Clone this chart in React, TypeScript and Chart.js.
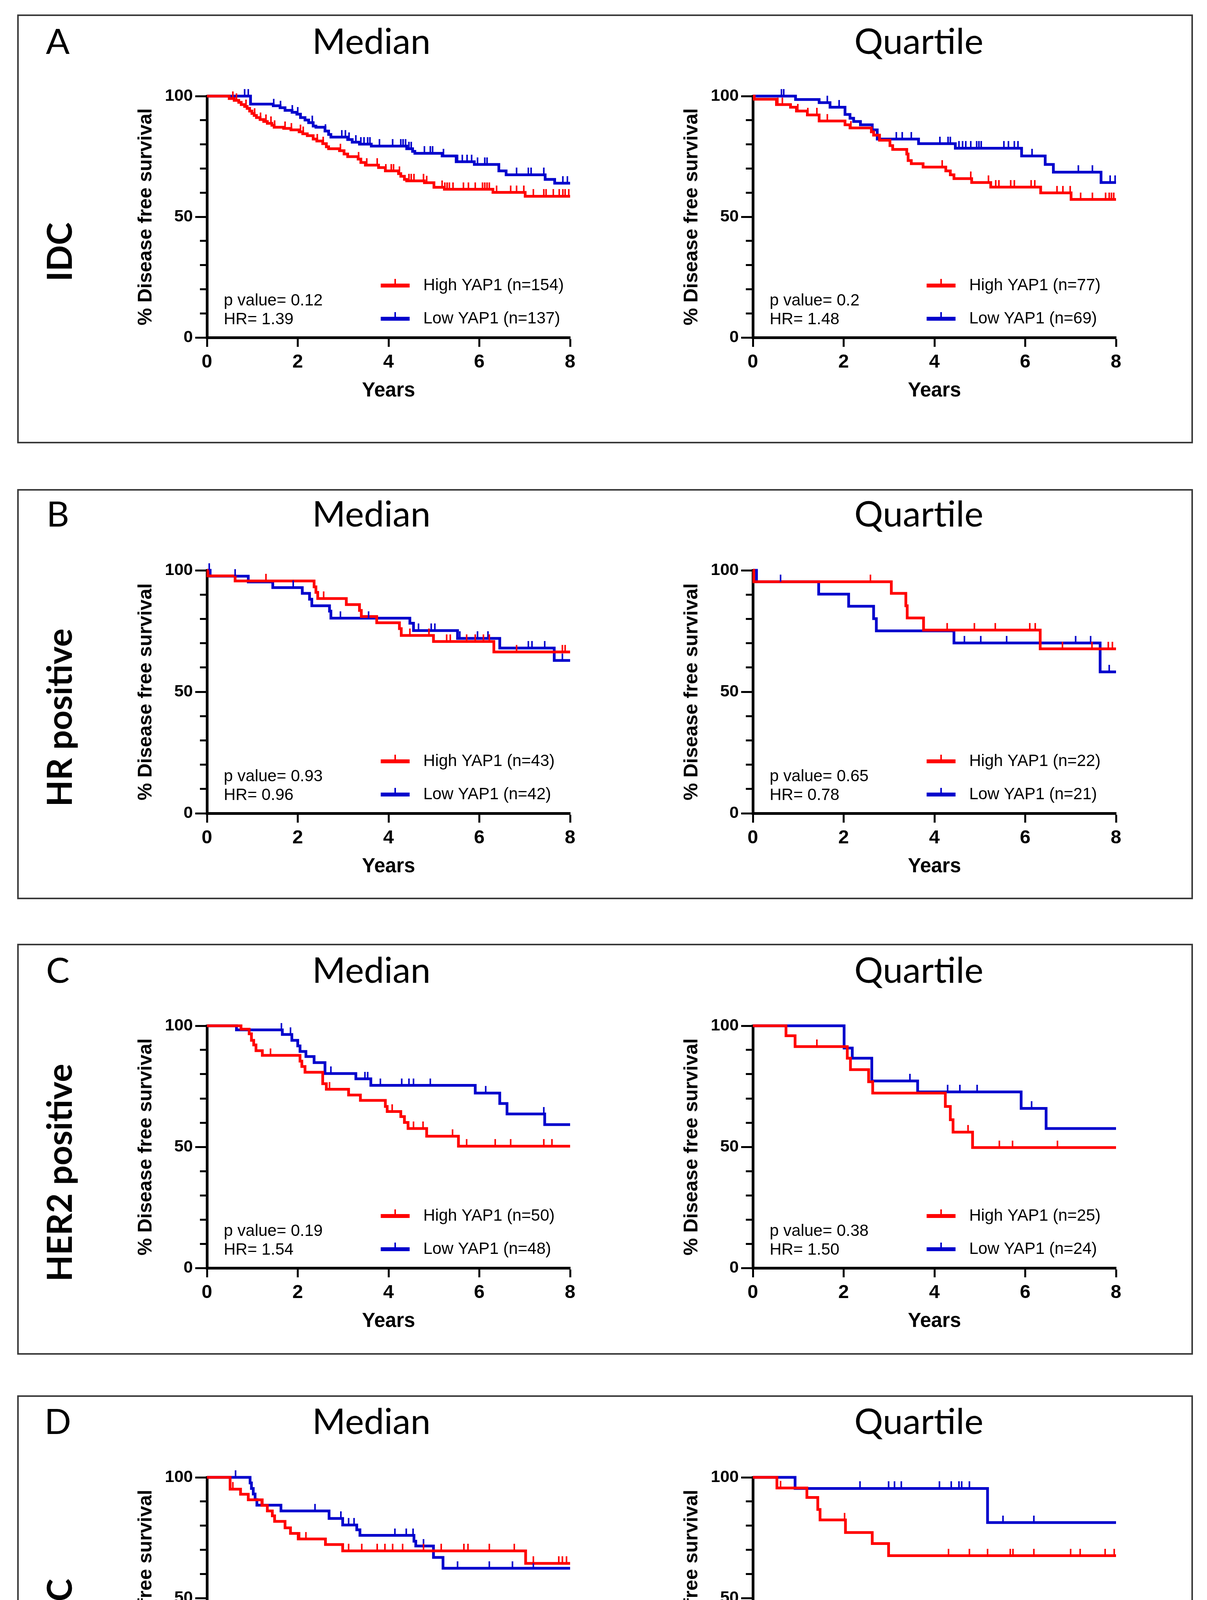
import React, { useEffect, useRef } from 'react';
import { Chart, registerables } from 'chart.js';

Chart.register(...registerables);

type Pt = [number, number];

// ---------- DATA: Kaplan–Meier steps [years, % survival] and censor times ----------
// IDC – Median
const IDC_MED_HIGH: Pt[] = [[0, 100], [0.49, 99.0], [0.6, 98.2], [0.7, 97.4], [0.755, 96.5], [0.83, 95.7], [0.885, 94.9], [0.94, 93.8], [0.99, 92.8], [1.04, 92.0], [1.09, 91.1], [1.17, 90.3], [1.25, 89.5], [1.33, 88.7], [1.43, 87.9], [1.48, 87.1], [1.69, 86.6], [1.85, 86.0], [2.03, 85.2], [2.11, 84.4], [2.21, 83.6], [2.34, 82.2], [2.42, 81.4], [2.55, 80.3], [2.63, 79.0], [2.68, 78.2], [2.92, 77.4], [3.02, 76.0], [3.1, 74.9], [3.33, 73.9], [3.39, 72.5], [3.49, 71.4], [3.78, 70.4], [3.93, 69.0], [4.22, 67.9], [4.27, 66.8], [4.35, 65.5], [4.4, 64.9], [4.79, 64.1], [5.0, 62.2], [5.23, 61.4], [6.3, 60.1], [7.01, 58.5], [8, 58.5]];
const IDC_MED_HIGH_CENS = [0.57, 0.65, 0.86, 1.05, 1.18, 1.3, 1.41, 1.49, 1.72, 1.86, 2.06, 2.12, 2.43, 2.56, 2.94, 3.34, 3.52, 3.75, 3.94, 4.06, 4.11, 4.24, 4.45, 4.5, 4.56, 4.77, 4.84, 5.18, 5.24, 5.29, 5.34, 5.42, 5.65, 5.76, 5.91, 6.07, 6.12, 6.17, 6.22, 6.38, 6.69, 6.82, 6.98, 7.19, 7.42, 7.47, 7.63, 7.76, 7.84, 7.89, 7.97];
const IDC_MED_LOW: Pt[] = [[0, 100], [0.96, 96.7], [1.46, 96.0], [1.61, 95.2], [1.72, 94.1], [1.875, 93.3], [1.98, 92.5], [2.06, 91.1], [2.16, 90.1], [2.24, 89.0], [2.34, 87.6], [2.4, 87.1], [2.6, 85.5], [2.68, 84.1], [2.73, 83.0], [3.1, 82.0], [3.2, 80.9], [3.36, 80.1], [3.62, 79.3], [4.4, 78.2], [4.53, 77.1], [4.58, 76.3], [5.18, 75.2], [5.49, 72.8], [5.89, 71.7], [6.43, 69.0], [6.59, 67.4], [7.45, 65.5], [7.66, 63.9], [8, 63.9]];
const IDC_MED_LOW_CENS = [0.83, 0.91, 1.47, 1.62, 1.88, 2.0, 2.32, 2.61, 2.97, 3.05, 3.13, 3.28, 3.39, 3.46, 3.54, 3.59, 3.8, 4.09, 4.27, 4.32, 4.375, 4.45, 4.5, 4.79, 4.92, 4.97, 5.21, 5.52, 5.625, 5.73, 5.83, 5.96, 6.12, 6.17, 6.82, 7.08, 7.14, 7.42, 7.84, 7.94];

// IDC – Quartile
const IDC_Q_HIGH: Pt[] = [[0, 100], [0.03, 98.7], [0.52, 96.5], [0.83, 95.4], [0.96, 93.8], [1.2, 92.2], [1.46, 89.7], [2.03, 88.1], [2.14, 86.8], [2.61, 85.2], [2.66, 83.8], [2.79, 81.7], [3.02, 79.5], [3.08, 77.9], [3.39, 76.0], [3.42, 73.3], [3.49, 72.0], [3.75, 70.6], [4.25, 69.0], [4.35, 67.4], [4.43, 65.8], [4.82, 64.2], [5.24, 62.3], [6.34, 59.9], [7.01, 57.2], [8, 57.2]];
const IDC_Q_HIGH_CENS = [0.55, 0.65, 0.99, 1.21, 1.41, 1.64, 2.16, 4.17, 4.8, 5.19, 5.35, 5.42, 5.68, 5.76, 6.13, 6.21, 6.7, 6.83, 6.99, 7.22, 7.48, 7.77, 7.85, 7.9, 7.95];
const IDC_Q_LOW: Pt[] = [[0, 100], [0.94, 98.6], [1.46, 97.3], [1.7, 95.4], [2.03, 92.4], [2.14, 90.8], [2.22, 89.5], [2.37, 88.1], [2.63, 86.0], [2.74, 82.2], [3.65, 80.3], [4.46, 78.4], [5.92, 75.2], [6.44, 71.7], [6.62, 68.5], [7.67, 64.2], [8, 64.2]];
const IDC_Q_LOW_CENS = [0.63, 0.68, 1.64, 1.9, 3.16, 3.29, 3.49, 4.12, 4.3, 4.35, 4.54, 4.62, 4.69, 4.8, 4.93, 4.98, 5.03, 5.53, 5.63, 5.76, 5.84, 6.15, 7.17, 7.48, 7.87, 7.98];

// HR positive – Median
const HR_MED_HIGH: Pt[] = [[0, 100], [0.02, 97.7], [0.62, 95.6], [2.36, 93.2], [2.4, 90.9], [2.44, 88.4], [3.07, 85.9], [3.36, 83.5], [3.4, 81.0], [3.74, 78.4], [4.24, 76.0], [4.28, 73.2], [4.99, 70.7], [6.32, 66.4], [8, 66.4]];
const HR_MED_HIGH_CENS = [1.3, 2.57, 4.47, 4.89, 5.28, 5.36, 5.72, 5.91, 6.09, 6.22, 6.82, 7.83, 7.89];
const HR_MED_LOW: Pt[] = [[0, 100], [0.07, 97.6], [0.91, 95.2], [1.45, 92.9], [2.1, 90.5], [2.26, 88.1], [2.31, 85.4], [2.7, 83.2], [2.73, 80.3], [4.47, 78.2], [4.55, 75.2], [5.52, 72.0], [6.45, 68.0], [7.65, 62.9], [8, 62.9]];
const HR_MED_LOW_CENS = [0.05, 0.62, 1.9, 2.94, 3.56, 4.66, 4.94, 5.02, 5.57, 5.96, 6.19, 7.08, 7.16, 7.44, 7.83];

// HR positive – Quartile
const HR_Q_HIGH: Pt[] = [[0, 100], [0.02, 95.3], [3.05, 90.5], [3.37, 85.4], [3.4, 80.4], [3.76, 75.4], [6.33, 67.7], [8, 67.7]];
const HR_Q_HIGH_CENS = [2.59, 4.28, 4.88, 5.34, 6.1, 6.22, 6.82, 7.47, 7.83, 7.92];
const HR_Q_LOW: Pt[] = [[0, 100], [0.08, 95.3], [1.45, 90.2], [2.11, 85.2], [2.66, 80.1], [2.72, 75.1], [4.43, 70.1], [7.65, 58.2], [8, 58.2]];
const HR_Q_LOW_CENS = [0.61, 4.66, 5.02, 5.59, 7.11, 7.44, 7.85];

// HER2 positive – Median
const HER2_MED_HIGH: Pt[] = [[0, 100], [0.75, 98.6], [0.93, 96.7], [0.98, 94.0], [1.03, 92.1], [1.08, 89.7], [1.22, 87.8], [2.05, 85.4], [2.09, 83.2], [2.16, 80.8], [2.55, 76.1], [2.63, 73.8], [3.12, 71.4], [3.38, 69.2], [3.93, 66.7], [3.97, 64.6], [4.27, 62.5], [4.35, 60.1], [4.43, 57.6], [4.84, 54.4], [5.54, 50.3], [8, 50.3]];
const HER2_MED_HIGH_CENS = [1.4, 2.7, 4.08, 4.55, 4.76, 5.41, 5.72, 6.35, 6.69, 7.42, 7.6];
const HER2_MED_LOW: Pt[] = [[0, 100], [0.65, 98.3], [1.66, 96.4], [1.87, 94.0], [2.0, 91.7], [2.05, 89.4], [2.18, 87.3], [2.36, 84.8], [2.6, 80.3], [3.28, 78.1], [3.61, 75.4], [5.91, 72.2], [6.45, 67.9], [6.61, 63.6], [7.44, 59.2], [8, 59.2]];
const HER2_MED_LOW_CENS = [1.64, 1.84, 2.73, 3.48, 3.54, 3.82, 4.29, 4.45, 4.55, 4.92, 6.14, 7.42];

// HER2 positive – Quartile
const HER2_Q_HIGH: Pt[] = [[0, 100], [0.73, 95.9], [0.93, 91.4], [2.08, 86.6], [2.15, 81.9], [2.55, 76.9], [2.64, 72.2], [4.24, 66.7], [4.35, 61.2], [4.41, 56.1], [4.84, 49.7], [8, 49.7]];
const HER2_Q_HIGH_CENS = [1.41, 4.74, 5.43, 5.72, 6.71];
const HER2_Q_LOW: Pt[] = [[0, 100], [2.01, 90.8], [2.19, 86.6], [2.62, 77.2], [3.63, 72.7], [5.91, 65.9], [6.46, 57.6], [8, 57.6]];
const HER2_Q_LOW_CENS = [3.46, 4.29, 4.56, 4.94, 6.14];

// TNBC – Median
const TNBC_MED_HIGH: Pt[] = [[0, 100], [0.51, 95.1], [0.74, 93.0], [0.91, 90.7], [1.21, 88.4], [1.33, 86.1], [1.44, 84.1], [1.49, 81.8], [1.72, 79.1], [1.84, 76.8], [2.01, 74.5], [2.61, 72.2], [2.99, 69.6], [7.02, 64.4], [8, 64.4]];
const TNBC_MED_HIGH_CENS = [0.57, 1.23, 2.04, 2.18, 3.12, 3.41, 3.75, 3.92, 4.09, 4.31, 4.77, 5.16, 5.66, 5.75, 6.22, 6.77, 7.19, 7.75, 7.83, 7.92];
const TNBC_MED_LOW: Pt[] = [[0, 100], [0.95, 97.7], [0.98, 95.4], [1.02, 93.1], [1.06, 90.8], [1.1, 88.5], [1.63, 86.1], [2.69, 83.0], [2.99, 80.3], [3.3, 78.3], [3.37, 76.0], [4.56, 73.6], [4.6, 71.6], [4.99, 66.9], [5.2, 62.4], [8, 62.4]];
const TNBC_MED_LOW_CENS = [0.63, 2.38, 2.95, 3.12, 3.24, 4.14, 4.39, 4.54, 4.77, 5.52, 6.22, 6.73, 7.19];

// TNBC – Quartile
const TNBC_Q_HIGH: Pt[] = [[0, 100], [0.53, 95.6], [1.19, 91.7], [1.43, 86.7], [1.48, 82.4], [2.04, 77.2], [2.63, 72.6], [2.99, 67.6], [8, 67.6]];
const TNBC_Q_HIGH_CENS = [0.61, 2.02, 4.31, 4.77, 5.17, 5.67, 5.73, 6.19, 7.0, 7.21, 7.76, 7.96];
const TNBC_Q_LOW: Pt[] = [[0, 100], [0.93, 95.4], [5.17, 81.3], [8, 81.3]];
const TNBC_Q_LOW_CENS = [2.36, 2.99, 3.12, 3.27, 4.11, 4.37, 4.54, 4.6, 4.77, 5.51, 6.19];

// Statistics & labels (panel order: A-Median, A-Quartile, B-Median, B-Quartile, ...)
const P_VALUES = ['0.12', '0.2', '0.93', '0.65', '0.19', '0.38', '0.80', '0.15'];
const HR_VALUES = ['1.39', '1.48', '0.96', '0.78', '1.54', '1.50', '1.11', '2.96'];
const N_HIGH = [154, 77, 43, 22, 50, 25, 45, 23];
const N_LOW = [137, 69, 42, 21, 48, 24, 44, 22];
const ROW_LETTERS = ['A', 'B', 'C', 'D'];
const ROW_LABELS = ['IDC', 'HR positive', 'HER2 positive', 'TNBC'];
const COLUMN_TITLES = ['Median', 'Quartile'];
const X_TICK_STEP = 2;
const Y_MAJOR_STEP = 50;
const Y_MINOR_STEP = 10;
const X_TITLE = 'Years';
const Y_TITLE = '% Disease free survival';

const HIGH_SERIES = [IDC_MED_HIGH, IDC_Q_HIGH, HR_MED_HIGH, HR_Q_HIGH, HER2_MED_HIGH, HER2_Q_HIGH, TNBC_MED_HIGH, TNBC_Q_HIGH];
const HIGH_CENS = [IDC_MED_HIGH_CENS, IDC_Q_HIGH_CENS, HR_MED_HIGH_CENS, HR_Q_HIGH_CENS, HER2_MED_HIGH_CENS, HER2_Q_HIGH_CENS, TNBC_MED_HIGH_CENS, TNBC_Q_HIGH_CENS];
const LOW_SERIES = [IDC_MED_LOW, IDC_Q_LOW, HR_MED_LOW, HR_Q_LOW, HER2_MED_LOW, HER2_Q_LOW, TNBC_MED_LOW, TNBC_Q_LOW];
const LOW_CENS = [IDC_MED_LOW_CENS, IDC_Q_LOW_CENS, HR_MED_LOW_CENS, HR_Q_LOW_CENS, HER2_MED_LOW_CENS, HER2_Q_LOW_CENS, TNBC_MED_LOW_CENS, TNBC_Q_LOW_CENS];

// ---------- STYLE / LAYOUT ----------
const AXIS_FONT = '"Liberation Sans", Arial, Helvetica, sans-serif';
const TITLE_FONT = 'Lato, Carlito, "Open Sans", sans-serif';
const RED = '#ff0000';
const BLUE = '#0000cc';

const ROW_GEOM = [
  { boxTop: 37, boxBottom: 1135, titleY: 103, labelY: 645, plotTop: 246, plotBottom: 864 },
  { boxTop: 1252, boxBottom: 2302, titleY: 1313, labelY: 1837, plotTop: 1460, plotBottom: 2082 },
  { boxTop: 2416, boxBottom: 3468, titleY: 2481, labelY: 3002, plotTop: 2626, plotBottom: 3246 },
  { boxTop: 3572, boxBottom: 4623, titleY: 3636, labelY: 4160, plotTop: 3782, plotBottom: 4401 },
];
const COL_AXIS_X = [530, 1928];
const COL_TITLE_X = [951, 2353];
const PLOT_W = 930;
const PAD_L = 10;
const Y_W = 186;
const PAD_T = 40;
const PAD_R = 60;
const X_H = 168;
const PAD_B = 10;

function survivalAt(steps: Pt[], t: number): number {
  let v = steps[0][1];
  for (const [x, y] of steps) {
    if (x <= t) v = y;
    else break;
  }
  return v;
}

function makeTick(color: string): HTMLCanvasElement {
  const c = document.createElement('canvas');
  c.width = 6;
  c.height = 36;
  const g = c.getContext('2d')!;
  g.fillStyle = color;
  g.fillRect(1, 0, 4, 18);
  return c;
}

interface KMProps {
  idx: number;
  axisX: number;
  plotTop: number;
  plotBottom: number;
}

function KMChart({ idx, axisX, plotTop, plotBottom }: KMProps) {
  const ref = useRef<HTMLCanvasElement>(null);
  const plotH = plotBottom - plotTop;
  const W = PAD_L + Y_W + PLOT_W + PAD_R;
  const H = PAD_T + plotH + X_H + PAD_B;

  useEffect(() => {
    const high = HIGH_SERIES[idx];
    const low = LOW_SERIES[idx];
    const highCens = HIGH_CENS[idx].map((t) => ({ x: t, y: survivalAt(high, t) }));
    const lowCens = LOW_CENS[idx].map((t) => ({ x: t, y: survivalAt(low, t) }));
    const redTick = makeTick(RED);
    const blueTick = makeTick(BLUE);

    const annotations = {
      id: 'kmAnnotations',
      afterDraw(chart: any) {
        const { ctx, chartArea } = chart;
        const { left, bottom } = chartArea;
        ctx.save();
        ctx.fillStyle = '#000';
        ctx.font = `42px ${AXIS_FONT}`;
        ctx.textBaseline = 'middle';
        ctx.textAlign = 'left';
        ctx.fillText(`p value= ${P_VALUES[idx]}`, left + 43, bottom - 94);
        ctx.fillText(`HR= ${HR_VALUES[idx]}`, left + 43, bottom - 46);
        const rows = [
          { color: RED, label: `High YAP1 (n=${N_HIGH[idx]})`, y: bottom - 133 },
          { color: BLUE, label: `Low YAP1 (n=${N_LOW[idx]})`, y: bottom - 48 },
        ];
        for (const r of rows) {
          ctx.strokeStyle = r.color;
          ctx.lineWidth = 10;
          ctx.beginPath();
          ctx.moveTo(left + 445, r.y);
          ctx.lineTo(left + 519, r.y);
          ctx.stroke();
          ctx.fillStyle = r.color;
          ctx.fillRect(left + 480, r.y - 17, 4, 17);
          ctx.fillStyle = '#000';
          ctx.fillText(r.label, left + 554, r.y);
        }
        ctx.restore();
      },
    };

    const chart = new Chart(ref.current!, {
      type: 'line',
      data: {
        datasets: [
          {
            data: highCens,
            showLine: false,
            pointStyle: redTick as any,
            pointRadius: 8,
            pointHoverRadius: 8,
            clip: false as any,
          },
          {
            data: lowCens,
            showLine: false,
            pointStyle: blueTick as any,
            pointRadius: 8,
            pointHoverRadius: 8,
            clip: false as any,
          },
          {
            data: high.map(([x, y]) => ({ x, y })),
            borderColor: RED,
            borderWidth: 7,
            stepped: 'before',
            pointRadius: 0,
            fill: false,
            clip: 20 as any,
          },
          {
            data: low.map(([x, y]) => ({ x, y })),
            borderColor: BLUE,
            borderWidth: 7,
            stepped: 'before',
            pointRadius: 0,
            fill: false,
            clip: 20 as any,
          },
        ],
      },
      options: {
        responsive: false,
        animation: false,
        events: [],
        devicePixelRatio: 1,
        layout: { padding: { left: PAD_L, top: PAD_T, right: PAD_R, bottom: PAD_B } },
        plugins: { legend: { display: false }, tooltip: { enabled: false }, title: { display: false } },
        scales: {
          x: {
            type: 'linear',
            min: 0,
            max: 8,
            ticks: {
              stepSize: X_TICK_STEP,
              color: '#000',
              padding: 10,
              maxRotation: 0,
              font: { family: AXIS_FONT, size: 49, weight: 'bold' },
            },
            grid: { drawOnChartArea: false, drawTicks: true, tickLength: 24, tickWidth: 5, tickColor: '#000' },
            border: { display: true, color: '#000', width: 7 },
            title: {
              display: true,
              text: X_TITLE,
              color: '#000',
              padding: 0,
              font: { family: AXIS_FONT, size: 51, weight: 'bold' },
            },
            afterFit: (s: any) => {
              s.height = X_H;
            },
          },
          y: {
            type: 'linear',
            position: 'left',
            weight: 1,
            min: 0,
            max: 100,
            ticks: {
              stepSize: Y_MAJOR_STEP,
              color: '#000',
              padding: 6,
              font: { family: AXIS_FONT, size: 43, weight: 'bold' },
            },
            grid: { drawOnChartArea: false, drawTicks: true, tickLength: 30, tickWidth: 5, tickColor: '#000' },
            border: { display: true, color: '#000', width: 7 },
            title: {
              display: true,
              text: Y_TITLE,
              color: '#000',
              padding: 0,
              font: { family: AXIS_FONT, size: 50, weight: 'bold' },
            },
            afterFit: (s: any) => {
              s.width = Y_W;
            },
          },
          yMinor: {
            type: 'linear',
            position: 'left',
            weight: 0,
            min: 0,
            max: 100,
            ticks: { stepSize: Y_MINOR_STEP, display: false },
            grid: { drawOnChartArea: false, drawTicks: true, tickLength: 18, tickWidth: 5, tickColor: '#000' },
            border: { display: false },
            afterFit: (s: any) => {
              s.width = 0;
            },
          },
        },
      } as any,
      plugins: [annotations],
    });
    return () => chart.destroy();
  }, [idx]);

  return (
    <canvas
      ref={ref}
      width={W}
      height={H}
      style={{ position: 'absolute', left: axisX - Y_W - PAD_L, top: plotTop - PAD_T, width: W, height: H }}
    />
  );
}

export default function App() {
  return (
    <div
      style={{
        position: 'absolute',
        left: 0,
        top: 0,
        width: 3091,
        height: 4659,
        background: '#fff',
        overflow: 'hidden',
      }}
    >
      {ROW_GEOM.map((g, r) => (
        <React.Fragment key={r}>
          <div
            style={{
              position: 'absolute',
              left: 44,
              top: g.boxTop,
              width: 3011,
              height: g.boxBottom - g.boxTop,
              border: '4px solid #3a3a3a',
              boxSizing: 'border-box',
            }}
          />
          <div
            style={{
              position: 'absolute',
              left: 148,
              top: g.titleY,
              transform: 'translate(-50%, -50%)',
              fontFamily: TITLE_FONT,
              fontSize: 90,
              lineHeight: 1,
              color: '#000',
              whiteSpace: 'nowrap',
            }}
          >
            {ROW_LETTERS[r]}
          </div>
          {COLUMN_TITLES.map((t, c) => (
            <div
              key={c}
              style={{
                position: 'absolute',
                left: COL_TITLE_X[c],
                top: g.titleY,
                transform: 'translate(-50%, -50%)',
                fontFamily: TITLE_FONT,
                fontSize: 92,
                lineHeight: 1,
                color: '#000',
                whiteSpace: 'nowrap',
              }}
            >
              {t}
            </div>
          ))}
          <div
            style={{
              position: 'absolute',
              left: 150,
              top: g.labelY,
              transform: 'translate(-50%, -50%) rotate(-90deg)',
              fontFamily: TITLE_FONT,
              fontWeight: 'bold',
              fontSize: 88,
              lineHeight: 1,
              color: '#000',
              whiteSpace: 'nowrap',
            }}
          >
            {ROW_LABELS[r]}
          </div>
          {COL_AXIS_X.map((ax, c) => (
            <KMChart key={c} idx={r * 2 + c} axisX={ax} plotTop={g.plotTop} plotBottom={g.plotBottom} />
          ))}
        </React.Fragment>
      ))}
    </div>
  );
}
